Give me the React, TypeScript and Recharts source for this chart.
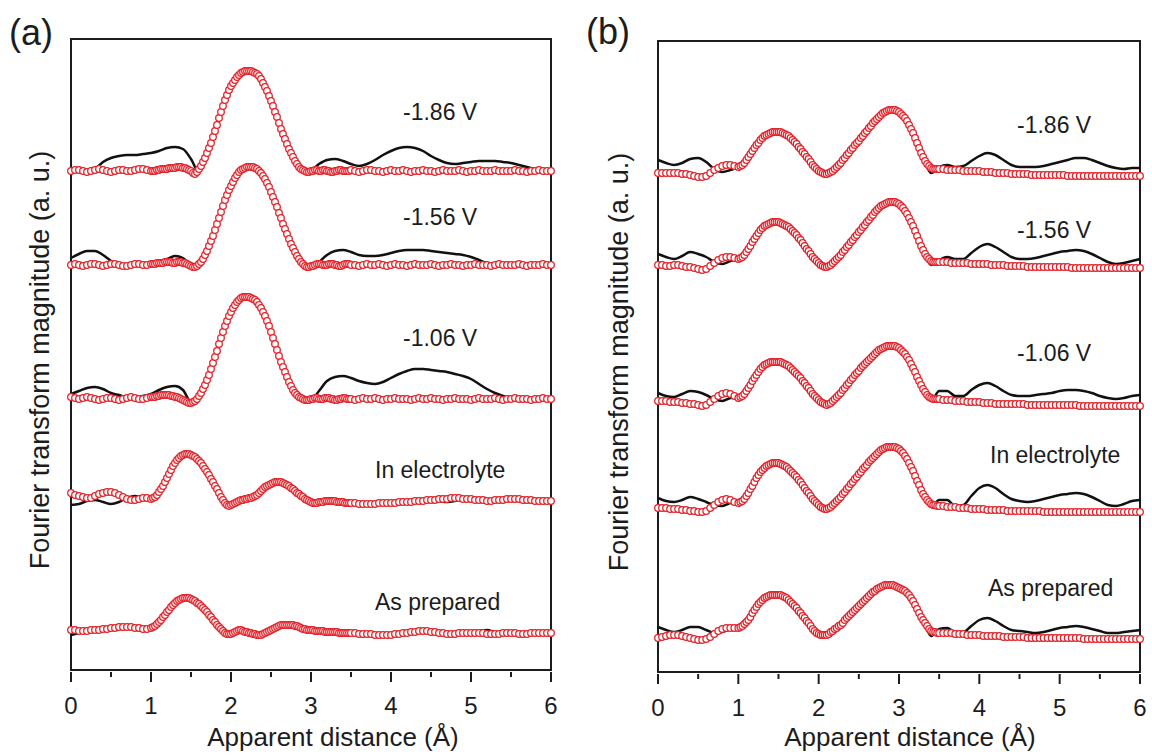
import { Line, LineChart, ReferenceArea, XAxis, YAxis } from 'recharts'

// sampling grids (Å) – fits are read finer across the peaks
const fitX = [
  0, 0.05, 0.1, 0.15, 0.2, 0.25, 0.3, 0.35, 0.4, 0.45,
  0.5, 0.55, 0.6, 0.65, 0.7, 0.75, 0.8, 0.85, 0.9, 0.95,
  1, 1.025, 1.05, 1.075, 1.1, 1.125, 1.15, 1.175, 1.2, 1.225,
  1.25, 1.275, 1.3, 1.325, 1.35, 1.375, 1.4, 1.425, 1.45, 1.475,
  1.5, 1.525, 1.55, 1.575, 1.6, 1.625, 1.65, 1.675, 1.7, 1.725,
  1.75, 1.775, 1.8, 1.825, 1.85, 1.875, 1.9, 1.925, 1.95, 1.975,
  2, 2.025, 2.05, 2.075, 2.1, 2.125, 2.15, 2.175, 2.2, 2.225,
  2.25, 2.275, 2.3, 2.325, 2.35, 2.375, 2.4, 2.425, 2.45, 2.475,
  2.5, 2.525, 2.55, 2.575, 2.6, 2.625, 2.65, 2.675, 2.7, 2.725,
  2.75, 2.775, 2.8, 2.825, 2.85, 2.875, 2.9, 2.925, 2.95, 2.975,
  3, 3.025, 3.05, 3.075, 3.1, 3.125, 3.15, 3.175, 3.2, 3.225,
  3.25, 3.275, 3.3, 3.325, 3.35, 3.375, 3.4, 3.425, 3.45, 3.475,
  3.5,
  3.55, 3.6, 3.65, 3.7, 3.75, 3.8, 3.85, 3.9, 3.95,
  4, 4.05, 4.1, 4.15, 4.2, 4.25, 4.3, 4.35, 4.4, 4.45,
  4.5, 4.55, 4.6, 4.65, 4.7, 4.75, 4.8, 4.85, 4.9, 4.95,
  5, 5.05, 5.1, 5.15, 5.2, 5.25, 5.3, 5.35, 5.4, 5.45,
  5.5, 5.55, 5.6, 5.65, 5.7, 5.75, 5.8, 5.85, 5.9, 5.95,
  6,
]
const expX = [
  0, 0.1, 0.2, 0.3, 0.4, 0.5, 0.6, 0.7, 0.8, 0.9,
  1, 1.1, 1.2, 1.3, 1.4, 1.5, 1.6, 1.7, 1.8, 1.9,
  2, 2.1, 2.2, 2.3, 2.4, 2.5, 2.6, 2.7, 2.8, 2.9,
  3, 3.1, 3.2, 3.3, 3.4, 3.5, 3.6, 3.7, 3.8, 3.9,
  4, 4.1, 4.2, 4.3, 4.4, 4.5, 4.6, 4.7, 4.8, 4.9,
  5, 5.1, 5.2, 5.3, 5.4, 5.5, 5.6, 5.7, 5.8, 5.9,
  6,
]
const tickVals = [0, 0.5, 1, 1.5, 2, 2.5, 3, 3.5, 4, 4.5, 5, 5.5, 6]
const curveLabels = ['-1.86 V', '-1.56 V', '-1.06 V', 'In electrolyte', 'As prepared']

// ---- panel (a): fits (circles) and data (lines), height above each trace's baseline
const fitA186 = [
  0, 1, 1, 0, -1, 0, 1, 2, 1, 0,
  -1, 0, 1, 1, 0, 0, 1, 2, 2, 1,
  0, 0, 0, 1, 1, 2, 2, 2, 2, 3,
  3, 3, 3, 4, 4, 4, 3, 3, 2, 1,
  0, -2, -3, -1, 2, 5, 9, 13, 18, 23,
  28, 34, 40, 46, 53, 59, 65, 71, 76, 81,
  85, 88, 91, 94, 96, 98, 99, 100, 100, 100,
  100, 99, 98, 97, 95, 92, 88, 84, 80, 75,
  70, 65, 59, 54, 48, 42, 37, 32, 27, 22,
  18, 14, 10, 7, 4, 2, 1, 0, -1, -1,
  0, 0, 1, 1, 0, 0, 1, 1, 0, 0,
  -1, -1, 0, 0, 1, 1, 0, 0, 0, 0,
  1,
  0, -1, 0, 1, 1, 0, 0, -1, 0,
  1, 0, 0, 1, 0, -1, 0, 0, 1, 0,
  0, -1, 0, 1, 0, 0, 0, 1, 0, -1,
  0, 0, 1, 0, 0, 0, 1, 0, 0, 0,
  0, 1, 0, 0, -1, 0, 0, 1, 0, 0,
  0,
]
const fitA156 = [
  0, 1, 0, -1, 0, 1, 1, 0, -1, 0,
  1, 1, 0, -1, -1, 0, 1, 1, 0, 0,
  1, 1, 1, 2, 2, 2, 2, 3, 3, 3,
  3, 2, 2, 3, 3, 3, 2, 2, 1, 0,
  -1, -2, -2, -1, 1, 3, 6, 10, 14, 19,
  24, 29, 35, 41, 47, 53, 59, 65, 70, 75,
  79, 83, 87, 90, 93, 95, 96, 97, 98, 98,
  98, 98, 97, 96, 94, 92, 89, 86, 82, 78,
  73, 68, 63, 58, 52, 47, 41, 36, 31, 26,
  21, 17, 13, 9, 6, 3, 1, -1, -2, -2,
  -1, -1, 0, 1, 1, 1, 0, 0, 0, 1,
  1, 1, 0, 0, -1, -1, 0, 1, 1, 1,
  0,
  0, -1, 0, 1, 0, 0, 1, 0, -1,
  0, 1, 0, 0, -1, 0, 1, 0, 0, 0,
  1, 0, -1, 0, 0, 1, 0, 0, -1, 0,
  0, 1, 0, 0, 0, -1, 0, 1, 0, 0,
  0, 0, 1, 0, -1, 0, 0, 0, 1, 0,
  0,
]
const fitA106 = [
  2, 1, 0, 1, 2, 1, 0, -1, 0, 1,
  1, 0, -1, 0, 1, 2, 1, 0, 0, 1,
  2, 2, 2, 3, 3, 4, 4, 4, 4, 4,
  3, 3, 2, 2, 1, 0, -1, -2, -3, -4,
  -4, -3, -2, 0, 3, 6, 10, 14, 19, 24,
  30, 36, 42, 48, 55, 61, 67, 73, 78, 83,
  87, 91, 94, 97, 99, 101, 102, 102, 102, 102,
  101, 100, 99, 97, 94, 91, 87, 83, 78, 73,
  67, 61, 55, 49, 43, 37, 32, 27, 22, 17,
  13, 9, 6, 4, 2, 1, 0, -1, -1, -1,
  0, 0, 1, 1, 0, 0, 0, 1, 1, 1,
  0, 0, -1, -1, 0, 0, 1, 1, 0, 0,
  0,
  -1, 0, 1, 0, 0, 1, 0, -1, 0,
  0, 1, 0, 0, 0, -1, 0, 1, 0, 0,
  1, 0, 0, -1, 0, 0, 1, 0, 0, 0,
  -1, 0, 1, 0, 0, 0, 1, 0, -1, 0,
  0, 1, 0, 0, 0, -1, 0, 0, 1, 0,
  0,
]
const fitAElec = [
  10, 8, 7, 6, 5, 5, 7, 9, 10, 11,
  11, 10, 8, 6, 4, 3, 3, 4, 5, 5,
  4, 5, 6, 8, 11, 14, 17, 21, 25, 29,
  33, 37, 40, 43, 45, 47, 48, 49, 49, 49,
  48, 47, 46, 44, 42, 40, 37, 34, 31, 28,
  24, 21, 17, 14, 10, 6, 3, 0, -2, -3,
  -2, -1, 0, 1, 2, 3, 3, 4, 4, 5,
  5, 6, 7, 8, 10, 12, 14, 16, 17, 18,
  19, 20, 21, 21, 21, 21, 20, 19, 18, 17,
  15, 14, 12, 10, 9, 7, 6, 4, 3, 2,
  1, 0, 0, 0, 1, 1, 1, 2, 2, 2,
  2, 2, 2, 1, 1, 1, 1, 0, 0, 0,
  0,
  0, -1, -1, -1, -1, -1, 0, 0, 0,
  0, 0, 1, 1, 1, 1, 2, 2, 2, 3,
  3, 3, 4, 4, 4, 5, 5, 5, 4, 4,
  4, 3, 3, 3, 2, 2, 3, 3, 3, 4,
  4, 4, 4, 3, 3, 3, 2, 2, 2, 2,
  2,
]
const fitAPrep = [
  3, 3, 2, 2, 2, 3, 3, 3, 4, 4,
  5, 5, 6, 6, 6, 6, 5, 5, 4, 4,
  5, 6, 7, 9, 11, 13, 16, 18, 21, 23,
  26, 28, 30, 32, 33, 34, 35, 35, 35, 35,
  34, 33, 32, 30, 29, 27, 25, 23, 21, 18,
  16, 13, 11, 8, 6, 4, 2, 0, -1, -1,
  -1, 0, 1, 2, 3, 3, 2, 1, 1, 0,
  0, -1, -1, -2, -2, -2, -1, 0, 1, 2,
  3, 4, 5, 6, 7, 8, 8, 8, 8, 8,
  8, 8, 7, 7, 6, 5, 4, 4, 3, 3,
  3, 3, 2, 2, 2, 2, 2, 1, 1, 1,
  1, 1, 1, 1, 0, 0, 0, 0, 0, 0,
  0,
  0, -1, -1, -1, -1, -2, -2, -2, -2,
  -2, -1, -1, 0, 0, 1, 1, 2, 2, 2,
  1, 1, 0, 0, -1, -1, -1, 0, 0, 0,
  0, 0, 0, 0, -1, -1, -1, -1, 0, 0,
  0, 0, -1, -1, -1, 0, 0, 0, 0, 0,
  0,
]
const expA186 = [
  0, 1, 0, 2, 9, 13, 15, 16, 16, 17,
  18, 20, 23, 24, 22, 12, -1, 18, 40, 65,
  85, 96, 100, 98, 88, 70, 48, 27, 10, 1,
  1, 7, 11, 12, 10, 7, 5, 7, 11, 16,
  20, 23, 24, 23, 20, 15, 11, 8, 7, 8,
  9, 10, 10, 10, 9, 8, 6, 4, 2, 1,
  1,
]
const expA156 = [
  7, 11, 14, 14, 10, 4, -1, -2, 0, 1,
  2, 3, 6, 9, 7, 0, 1, 14, 35, 59,
  79, 93, 98, 97, 89, 73, 52, 31, 13, 1,
  -4, 3, 10, 14, 15, 13, 10, 9, 9, 10,
  12, 14, 15, 15, 15, 14, 13, 12, 11, 10,
  8, 5, 2, 0, 0, 0, -1, 0, 0, -1,
  0,
]
const expA106 = [
  5, 8, 11, 12, 10, 6, 4, 2, 2, 3,
  5, 9, 12, 13, 9, -3, 3, 19, 42, 67,
  87, 99, 102, 99, 87, 67, 43, 22, 6, 1,
  -1, 8, 18, 22, 23, 21, 18, 16, 15, 17,
  21, 25, 28, 30, 30, 29, 28, 27, 25, 23,
  20, 15, 10, 6, 3, 1, 0, 0, 0, 0,
  0,
]
const expAElec = [
  -2, -1, 2, 3, 1, -1, 1, 5, 7, 6,
  5, 11, 25, 40, 48, 48, 42, 31, 17, 3,
  -1, 3, 5, 8, 15, 20, 21, 17, 11, 5,
  1, 1, 2, 3, 2, 1, -1, -1, -1, 0,
  0, 1, 1, 2, 2, 3, 2, 1, 2, 4,
  3, 2, 1, 2, 3, 3, 2, 1, 1, 2,
  2,
]
const expAPrep = [
  -2, 0, 2, 2, 3, 4, 6, 6, 5, 4,
  5, 11, 21, 30, 35, 34, 29, 21, 11, 2,
  -1, 3, 1, -1, -1, 3, 7, 8, 7, 4,
  3, 2, 1, 1, 0, 0, -1, -1, -2, -2,
  -1, 0, 1, 2, 3, 1, 0, -1, 0, 0,
  1, 2, 3, 1, 0, -1, 0, 0, -1, 0,
  0,
]
const baseA = [499, 405, 271, 167, 37]

// ---- panel (b)
const fitB186 = [
  2, 2, 2, 2, 2, 2, 1, 1, 0, -1,
  -2, -2, -1, 2, 5, 7, 9, 10, 10, 9,
  8, 9, 10, 12, 15, 18, 21, 24, 27, 30,
  32, 35, 37, 39, 40, 41, 42, 43, 43, 43,
  43, 43, 42, 41, 40, 39, 37, 35, 33, 31,
  28, 26, 23, 21, 18, 16, 13, 10, 8, 6,
  4, 3, 2, 1, 1, 2, 3, 4, 6, 8,
  10, 12, 15, 17, 20, 22, 25, 27, 30, 32,
  34, 37, 39, 42, 44, 47, 49, 52, 54, 56,
  58, 60, 62, 63, 64, 65, 65, 65, 65, 64,
  63, 61, 59, 57, 54, 50, 46, 42, 37, 32,
  27, 22, 18, 14, 11, 9, 7, 6, 6, 6,
  6,
  6, 5, 5, 5, 5, 4, 4, 4, 4,
  4, 3, 3, 3, 2, 2, 2, 2, 1, 1,
  1, 1, 1, 0, 0, 0, 0, 0, 0, 0,
  0, 0, -1, -1, -1, -1, -1, -1, -1, -1,
  -1, -1, -1, -1, -1, -1, -1, -1, -1, -1,
  -1,
]
const fitB156 = [
  2, 2, 1, 1, 2, 2, 1, 0, 0, -1,
  -2, -3, -2, 1, 4, 7, 9, 10, 10, 9,
  8, 9, 10, 12, 15, 18, 21, 25, 28, 31,
  34, 37, 39, 41, 42, 43, 44, 45, 45, 45,
  45, 44, 43, 42, 41, 40, 38, 36, 34, 32,
  29, 27, 24, 21, 18, 16, 13, 10, 8, 6,
  4, 2, 1, 0, 0, 1, 2, 4, 6, 8,
  10, 12, 15, 17, 20, 22, 25, 27, 30, 32,
  35, 37, 40, 42, 45, 47, 50, 52, 55, 57,
  59, 61, 62, 63, 64, 65, 65, 65, 65, 64,
  63, 61, 59, 56, 53, 49, 45, 41, 36, 31,
  26, 21, 17, 13, 10, 8, 6, 5, 5, 5,
  5,
  5, 5, 4, 4, 4, 4, 4, 3, 3,
  3, 3, 3, 2, 2, 2, 2, 1, 1, 1,
  1, 1, 0, 0, 0, 0, 0, 0, 0, 0,
  0, 0, 0, -1, -1, -1, -1, -1, -1, -1,
  -1, -1, -1, -1, -1, -1, -1, -1, -1, -1,
  -1,
]
const fitB106 = [
  2, 2, 2, 1, 1, 1, 0, 0, -1, -1,
  -2, -3, -2, 1, 4, 7, 9, 10, 9, 7,
  5, 6, 7, 9, 12, 15, 18, 22, 25, 28,
  31, 34, 36, 38, 39, 40, 41, 41, 41, 41,
  41, 41, 40, 39, 38, 37, 35, 33, 31, 29,
  27, 25, 22, 20, 17, 15, 12, 9, 7, 5,
  3, 1, 0, -1, -2, -1, 0, 2, 4, 6,
  8, 10, 13, 15, 18, 20, 23, 25, 28, 30,
  32, 35, 37, 39, 41, 43, 45, 47, 49, 51,
  53, 54, 55, 56, 57, 57, 57, 57, 57, 56,
  55, 53, 51, 49, 46, 43, 39, 35, 31, 26,
  22, 18, 14, 11, 8, 6, 5, 4, 4, 4,
  4,
  3, 3, 3, 2, 2, 2, 1, 1, 1,
  1, 0, 0, 0, -1, -1, -1, -1, -1, -1,
  -1, -1, -2, -2, -2, -2, -2, -2, -2, -2,
  -2, -2, -2, -2, -2, -3, -3, -3, -3, -3,
  -3, -3, -3, -3, -3, -3, -3, -3, -3, -3,
  -3,
]
const fitBElec = [
  1, 1, 1, 0, 0, 0, -1, -1, -2, -2,
  -3, -3, -2, 1, 4, 7, 9, 10, 9, 7,
  6, 7, 8, 10, 13, 16, 20, 23, 27, 31,
  34, 37, 39, 41, 43, 44, 45, 46, 46, 46,
  46, 45, 44, 43, 42, 40, 38, 36, 34, 32,
  29, 27, 24, 21, 18, 16, 13, 10, 8, 6,
  4, 2, 1, 0, 0, 1, 2, 4, 6, 8,
  10, 12, 15, 17, 20, 22, 25, 27, 30, 32,
  35, 37, 40, 42, 44, 47, 49, 51, 53, 55,
  57, 59, 60, 61, 62, 62, 62, 62, 62, 61,
  60, 58, 56, 53, 50, 46, 42, 38, 33, 28,
  24, 19, 15, 12, 9, 7, 5, 4, 4, 3,
  3,
  3, 2, 2, 2, 1, 1, 1, 0, 0,
  0, 0, -1, -1, -1, -1, -1, -2, -2, -2,
  -2, -2, -2, -2, -2, -2, -3, -3, -3, -3,
  -3, -3, -3, -3, -3, -3, -3, -3, -3, -3,
  -3, -3, -3, -3, -3, -3, -3, -3, -3, -3,
  -3,
]
const fitBPrep = [
  0, 1, 2, 3, 3, 3, 2, 1, 0, -1,
  -2, -2, -1, 1, 4, 7, 9, 10, 10, 10,
  10, 11, 12, 14, 16, 18, 21, 25, 28, 31,
  34, 36, 38, 40, 41, 42, 43, 43, 43, 43,
  43, 43, 42, 41, 40, 38, 36, 34, 32, 30,
  27, 25, 22, 20, 17, 15, 12, 9, 7, 5,
  4, 3, 3, 3, 3, 4, 6, 7, 9, 10,
  12, 13, 15, 18, 20, 22, 24, 26, 28, 30,
  32, 34, 36, 38, 40, 42, 44, 46, 47, 49,
  50, 51, 52, 53, 53, 53, 53, 53, 52, 51,
  50, 49, 48, 47, 45, 43, 40, 37, 33, 29,
  25, 21, 18, 15, 12, 9, 7, 6, 6, 5,
  5,
  5, 5, 5, 4, 4, 4, 3, 3, 3,
  3, 2, 2, 2, 2, 2, 1, 1, 1, 1,
  1, 1, 0, 0, 0, 0, 0, 0, 0, 0,
  0, 0, 0, 0, 0, 0, -1, -1, -1, -1,
  -1, -1, -1, -1, -1, -1, -1, -1, -1, -1,
  -1,
]
const expB186 = [
  15, 12, 10, 12, 16, 17, 13, 6, 3, 5,
  8, 15, 27, 37, 42, 43, 40, 33, 23, 13,
  4, 1, 6, 15, 25, 34, 44, 54, 62, 65,
  63, 54, 37, 18, 2, 8, 10, 8, 9, 14,
  19, 22, 20, 15, 10, 8, 8, 8, 9, 11,
  13, 15, 17, 17, 15, 12, 9, 7, 6, 7,
  7,
]
const expB156 = [
  13, 10, 8, 11, 15, 13, 10, 5, 3, 6,
  8, 15, 28, 39, 44, 45, 41, 34, 24, 13,
  4, 0, 6, 15, 25, 35, 45, 55, 62, 65,
  63, 53, 36, 17, 2, 7, 10, 8, 8, 14,
  20, 23, 20, 15, 10, 8, 8, 9, 11, 13,
  15, 16, 17, 16, 13, 9, 5, 3, 4, 6,
  8,
]
const expB106 = [
  10, 7, 6, 9, 12, 11, 8, 4, 2, 5,
  6, 12, 25, 36, 41, 41, 38, 31, 22, 12,
  3, -2, 4, 13, 23, 32, 41, 49, 55, 57,
  55, 46, 31, 14, 2, 12, 12, 7, 7, 13,
  18, 20, 17, 12, 8, 7, 7, 8, 9, 10,
  12, 13, 13, 12, 10, 7, 5, 4, 5, 7,
  8,
]
const expBElec = [
  11, 8, 7, 9, 12, 10, 7, 4, 3, 6,
  7, 13, 27, 39, 45, 46, 42, 34, 24, 13,
  4, 0, 6, 15, 25, 35, 44, 53, 60, 62,
  60, 50, 33, 15, 2, 9, 9, 3, 4, 13,
  21, 24, 21, 15, 10, 8, 7, 8, 10, 12,
  14, 15, 16, 15, 12, 8, 4, 3, 5, 8,
  9,
]
const expBPrep = [
  11, 8, 6, 8, 11, 11, 8, 5, 6, 9,
  10, 16, 28, 38, 43, 43, 40, 32, 22, 12,
  4, 3, 9, 15, 24, 32, 40, 47, 52, 53,
  50, 45, 33, 18, 2, 9, 10, 6, 6, 12,
  18, 20, 17, 12, 8, 7, 6, 5, 6, 8,
  10, 11, 12, 11, 9, 7, 5, 5, 6, 7,
  8,
]
const baseB = [497, 405, 269, 163, 34]

const fitsA = [fitA186, fitA156, fitA106, fitAElec, fitAPrep]
const expsA = [expA186, expA156, expA106, expAElec, expAPrep]
const fitsB = [fitB186, fitB156, fitB106, fitBElec, fitBPrep]
const expsB = [expB186, expB156, expB106, expBElec, expBPrep]

const ink = '#1c1c1c'
const red = '#e3232b'
const font = '"Liberation Sans", Arial, Helvetica, sans-serif'

const toPts = (xs: number[], hs: number[], base: number) => xs.map((x, i) => ({ x, y: hs[i] + base }))

function AxisTick(props: any) {
  const { x, y, payload } = props
  const v = payload.value as number
  const major = Number.isInteger(v)
  return (
    <g>
      <line x1={x} x2={x} y1={y} y2={y + (major ? 10 : 5)} stroke={ink} strokeWidth={2} />
      {major && (
        <text x={x} y={y + 42} textAnchor="middle" fontSize={24} fill={ink}>
          {v}
        </text>
      )}
    </g>
  )
}

type PanelProps = {
  left: number
  width: number
  top: number
  axisH: number
  right: number
  fits: number[][]
  exps: number[][]
  bases: number[]
}

function Panel({ left, width, top, axisH, right, fits, exps, bases }: PanelProps) {
  return (
    <div style={{ position: 'absolute', left, top: 0 }}>
      <LineChart width={width} height={755} margin={{ top, right, bottom: 0, left: 0 }}>
        <XAxis
          type="number"
          dataKey="x"
          domain={[0, 6]}
          ticks={tickVals}
          interval={0}
          height={axisH}
          tickSize={0}
          tickLine={false}
          axisLine={{ stroke: ink, strokeWidth: 2 }}
          tick={<AxisTick />}
        />
        <YAxis type="number" dataKey="y" domain={[0, 631]} width={71} tick={false} axisLine={false} />
        <ReferenceArea x1={0} x2={6} y1={0} y2={631} fill="none" stroke={ink} strokeWidth={2} />
        {exps.map((e, i) => (
          <Line
            key={'e' + i}
            data={toPts(expX, e, bases[i])}
            dataKey="y"
            type="monotone"
            stroke="#111"
            strokeWidth={2.5}
            dot={false}
            isAnimationActive={false}
          />
        ))}
        {fits.map((f, i) => (
          <Line
            key={'f' + i}
            data={toPts(fitX, f, bases[i])}
            dataKey="y"
            stroke="none"
            dot={{ r: 3.3, fill: '#fff', stroke: red, strokeWidth: 1.3 }}
            isAnimationActive={false}
          />
        ))}
      </LineChart>
    </div>
  )
}

const labelPosA = [
  [403, 120],
  [403, 225],
  [403, 346],
  [375, 478],
  [375, 610],
]
const labelPosB = [
  [1017, 133],
  [1017, 238],
  [1017, 361],
  [990, 463],
  [988, 596],
]

export default function App() {
  return (
    <div
      style={{
        position: 'absolute',
        left: 0,
        top: 0,
        width: 1152,
        height: 755,
        background: '#fff',
        fontFamily: font,
        overflow: 'hidden',
      }}
    >
      <Panel left={0} width={576} top={39} axisH={85} right={25} fits={fitsA} exps={expsA} bases={baseA} />
      <Panel left={587} width={565} top={41} axisH={83} right={12} fits={fitsB} exps={expsB} bases={baseB} />
      <svg width={1152} height={755} style={{ position: 'absolute', left: 0, top: 0, pointerEvents: 'none' }}>
        <g fill={ink} fontFamily={font}>
          <text x={9} y={45} fontSize={36}>(a)</text>
          <text x={586} y={44} fontSize={36}>(b)</text>
          <text x={333} y={746} fontSize={26} textAnchor="middle">Apparent distance (Å)</text>
          <text x={910} y={746} fontSize={26} textAnchor="middle">Apparent distance (Å)</text>
          <text x={49} y={360} fontSize={27} textAnchor="middle" transform="rotate(-90 49 360)">
            Fourier transform magnitude (a. u.)
          </text>
          <text x={628} y={362} fontSize={27} textAnchor="middle" transform="rotate(-90 628 362)">
            Fourier transform magnitude (a. u.)
          </text>
          {curveLabels.map((t, i) => (
            <text key={'la' + i} x={labelPosA[i][0]} y={labelPosA[i][1]} fontSize={23}>
              {t}
            </text>
          ))}
          {curveLabels.map((t, i) => (
            <text key={'lb' + i} x={labelPosB[i][0]} y={labelPosB[i][1]} fontSize={23}>
              {t}
            </text>
          ))}
        </g>
      </svg>
    </div>
  )
}
